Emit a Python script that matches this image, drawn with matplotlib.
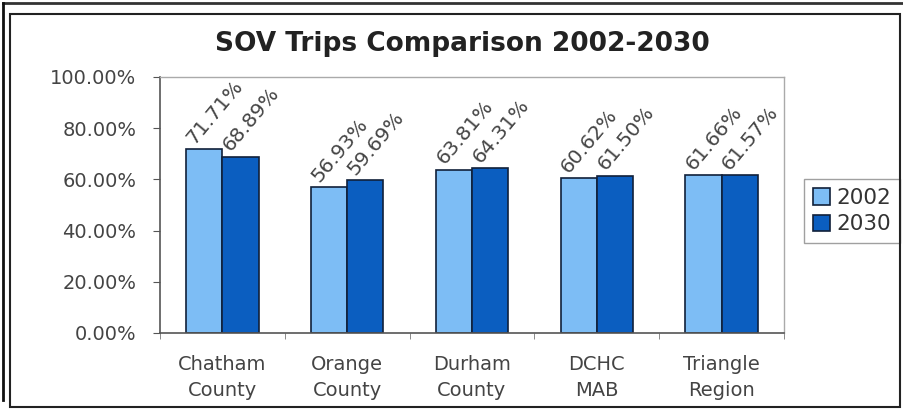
import matplotlib
matplotlib.use("Agg")
import matplotlib.pyplot as plt
from matplotlib.patches import Rectangle
from matplotlib.lines import Line2D
import numpy as np

categories = ["Chatham\nCounty", "Orange\nCounty", "Durham\nCounty", "DCHC\nMAB", "Triangle\nRegion"]
series_names = ["2002", "2030"]
values_2002 = [71.71, 56.93, 63.81, 60.62, 61.66]
values_2030 = [68.89, 59.69, 64.31, 61.50, 61.57]
ytick_values = [0, 20, 40, 60, 80, 100]
ytick_labels = ["0.00%", "20.00%", "40.00%", "60.00%", "80.00%", "100.00%"]

light = "#7dbdf5"
dark = "#0b5ec0"
edge = "#10203a"
txt = "#444444"

plt.rcParams['font.family'] = ['DejaVu Sans']

fig = plt.figure(figsize=(9.04, 4.16), dpi=100)
fig.patch.set_facecolor("white")

# frame lines of the scanned picture
fig.add_artist(Rectangle((10/904, 1-407/416), 890/904, (407-14)/416, transform=fig.transFigure,
                         fill=False, edgecolor="#222222", linewidth=1.5))
fig.add_artist(Line2D([3/904, 1.0], [1-3/416, 1-3/416], transform=fig.transFigure, color="#333333", lw=2))
fig.add_artist(Line2D([3/904, 3/904], [1-3/416, 1-400/416], transform=fig.transFigure, color="#111111", lw=2))

ax = fig.add_axes([160/904, 1-333/416, 624/904, 256/416])
x = np.arange(len(categories))
w = 0.29
b1 = ax.bar(x - w/2, values_2002, w, color=light, edgecolor=edge, linewidth=1.2, label=series_names[0])
b2 = ax.bar(x + w/2, values_2030, w, color=dark, edgecolor=edge, linewidth=1.2, label=series_names[1])

for bars, vals in ((b1, values_2002), (b2, values_2030)):
    for rect, v in zip(bars, vals):
        ax.annotate(f"{v:.2f}%", xy=(rect.get_x() + rect.get_width()/2, v),
                    xytext=(-7, 3), textcoords="offset points", rotation=50,
                    rotation_mode="anchor", ha="left", va="baseline",
                    fontsize=14.5, color=txt)

ax.set_xlim(-0.5, len(categories) - 0.5)
ax.set_ylim(0, 100)
ax.set_yticks(ytick_values)
ax.set_yticklabels(ytick_labels, fontsize=14, color=txt)
ax.set_xticks(x)
ax.set_xticklabels(categories, fontsize=14, color=txt, linespacing=1.45)
ax.set_xticks(np.arange(-0.5, len(categories), 1.0), minor=True)
ax.tick_params(axis="x", which="major", length=0, pad=16)
ax.tick_params(axis="x", which="minor", length=4, color="#777777", direction="out")
ax.tick_params(axis="y", length=5, color="#555555", pad=12)

for s in ("left", "bottom"):
    ax.spines[s].set_color("#555555")
    ax.spines[s].set_linewidth(1.2)
for s in ("top", "right"):
    ax.spines[s].set_color("#aaaaaa")
    ax.spines[s].set_linewidth(1.0)

fig.text(462/904, 1-44/416, "SOV Trips Comparison 2002-2030", ha="center", va="center",
         fontsize=19, fontweight="bold", color="#222222")

leg = ax.legend(loc="center left", bbox_to_anchor=(804/904, 1-244/416, 96/904, 66/416),
                bbox_transform=fig.transFigure, fontsize=15.5, frameon=True, fancybox=False,
                handlelength=0.8, handleheight=0.8, handletextpad=0.3, borderpad=0.4,
                labelspacing=0.3, borderaxespad=0)
leg.get_frame().set_edgecolor("#888888")
leg.get_frame().set_linewidth(1.0)
for t in leg.get_texts():
    t.set_color("#333333")

fig.savefig("out.png", dpi=100, facecolor="white")
